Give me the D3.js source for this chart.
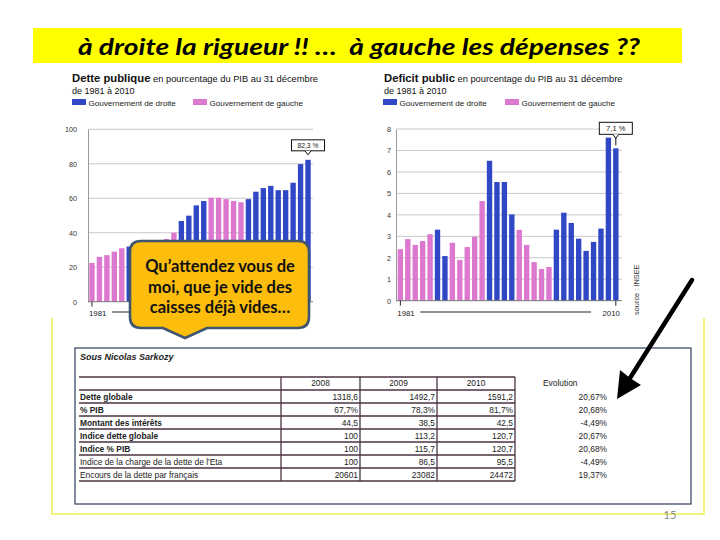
<!DOCTYPE html>
<html><head><meta charset="utf-8">
<script src="https://cdn.jsdelivr.net/npm/d3@7"></script>
<style>html,body{margin:0;padding:0;background:#fff;} svg{display:block}</style>
</head><body>
<svg id="c" width="720" height="540"></svg>
<script>
// ---------- DATA ----------
const years = ["1981","1982","1983","1984","1985","1986","1987","1988","1989","1990",
  "1991","1992","1993","1994","1995","1996","1997","1998","1999","2000",
  "2001","2002","2003","2004","2005","2006","2007","2008","2009","2010"];
// D = gouvernement de droite, G = gouvernement de gauche
const government = ["G","G","G","G","G","D","D","G","G","G",
  "G","G","D","D","D","D","G","G","G","G",
  "G","D","D","D","D","D","D","D","D","D"];
const debtValues = [22.5,26,27,29,31,32,33.5,34,34.5,35.5,
  36.4,40,46.8,49.9,55.9,58.4,60.3,60.3,59.5,58.4,
  57.7,59.5,63.8,65.9,67.2,64.7,64.7,69,79.8,82.3];
const deficitValues = [2.4,2.87,2.6,2.78,3.1,3.31,2.08,2.7,1.9,2.5,
  2.98,4.64,6.52,5.53,5.53,4.02,3.3,2.6,1.8,1.48,
  1.57,3.31,4.1,3.62,2.89,2.32,2.74,3.36,7.6,7.1];
const debtTicks = [0,20,40,60,80,100];
const deficitTicks = [0,1,2,3,4,5,6,7,8];
const legendLabels = ["Gouvernement de droite","Gouvernement de gauche"];

const tableYears = ["2008","2009","2010"];
const rowLabels = ["Dette globale","% PIB","Montant des intérêts","Indice dette globale",
  "Indice % PIB","Indice de la charge de la dette de l'Eta","Encours de la dette par français"];
const col2008 = ["1318,6","67,7%","44,5","100","100","100","20601"];
const col2009 = ["1492,7","78,3%","38,5","113,2","115,7","86,5","23082"];
const col2010 = ["1591,2","81,7%","42,5","120,7","120,7","95,5","24472"];
const evolution = ["20,67%","20,68%","-4,49%","20,67%","20,68%","-4,49%","19,37%"];

// ---------- DRAW ----------
const svg = d3.select("#c");
const BLUE = "#3047c6", PINK = "#dd78d0";
const color = d3.scaleOrdinal().domain(["D","G"]).range([BLUE, PINK]);
const SANS = "'Liberation Sans', Arial, sans-serif";

// title bar
svg.append("rect").attr("x",33).attr("y",28).attr("width",649).attr("height",35).attr("fill","#ffff00");
svg.append("text").attr("x",359).attr("y",55).attr("text-anchor","middle")
  .attr("font-family","Lato, 'Open Sans', sans-serif").attr("font-weight","bold").attr("font-style","italic")
  .attr("font-size",22.5).attr("fill","#000")
  .attr("textLength",562).attr("lengthAdjust","spacingAndGlyphs")
  .text("à droite la rigueur !! …\u00a0\u00a0à gauche les dépenses ??");

// yellow frame around scanned table
svg.append("path").attr("d","M52,318 V514 H704 V318").attr("fill","none")
  .attr("stroke","#f4f27a").attr("stroke-width",2);

function chart(o){
  const g = svg.append("g");
  // header
  const t = g.append("text").attr("x",o.tx).attr("y",82).attr("font-family",SANS).attr("fill","#111");
  t.append("tspan").attr("font-weight","bold").attr("font-size",11.3).text(o.title);
  t.append("tspan").attr("font-size",9.3).text(" en pourcentage du PIB"+o.sep+"au 31 décembre");
  g.append("text").attr("x",o.tx).attr("y",94).attr("font-family",SANS).attr("font-size",9)
    .attr("fill","#111").text("de 1981 à 2010");
  legendLabels.forEach((l,i)=>{
    g.append("rect").attr("x",o.lx[i]).attr("y",99).attr("width",14).attr("height",6)
      .attr("fill",i===0?BLUE:PINK);
    g.append("text").attr("x",o.lx[i]+16.5).attr("y",105.5).attr("font-family",SANS)
      .attr("font-size",8.1).attr("fill","#222").text(l);
  });
  const x = d3.scaleBand().domain(years).range(o.xr).paddingInner(0.28).paddingOuter(0);
  const y = d3.scaleLinear().domain([0,o.max]).range([o.y0,o.y1]);
  // grid
  g.selectAll(".gl").data(o.ticks.slice(1)).join("line")
    .attr("x1",o.gx0).attr("x2",o.gx1).attr("y1",d=>y(d)).attr("y2",d=>y(d))
    .attr("stroke","#c9c9c9").attr("stroke-width",1);
  const ax = d3.axisLeft(y).tickValues(o.ticks).tickSize(0).tickPadding(o.pad).tickFormat(d3.format("d"));
  const ag = g.append("g").attr("transform",`translate(${o.gx0},0)`).call(ax);
  ag.select(".domain").attr("stroke","#9a9a9a");
  ag.selectAll("text").attr("font-family",SANS).attr("font-size",7.2).attr("fill","#333");
  // bars
  g.selectAll(".bar").data(o.values).join("rect")
    .attr("x",(d,i)=>x(years[i])).attr("width",x.bandwidth())
    .attr("y",d=>y(d)).attr("height",d=>y(0)-y(d))
    .attr("fill",(d,i)=>color(government[i]));
  // baseline
  g.append("line").attr("x1",o.gx0).attr("x2",o.gx1).attr("y1",y(0)).attr("y2",y(0))
    .attr("stroke","#777").attr("stroke-width",1);
  // x axis annotation
  const cx0 = x(years[0])+x.bandwidth()/2;
  g.append("line").attr("x1",cx0).attr("x2",cx0).attr("y1",y(0)).attr("y2",y(0)+5).attr("stroke","#222");
  g.append("text").attr("x",cx0-3).attr("y",316).attr("font-family",SANS).attr("font-size",7.8)
    .attr("fill","#222").text(years[0]);
  g.append("line").attr("x1",cx0+20).attr("x2",o.lineEnd).attr("y1",312).attr("y2",312).attr("stroke","#222");
  if (o.showEnd){
    const cx1 = x(years[29])+x.bandwidth()/2;
    g.append("line").attr("x1",cx1).attr("x2",cx1).attr("y1",y(0)).attr("y2",y(0)+5).attr("stroke","#222");
    g.append("text").attr("x",cx1+4).attr("y",316).attr("text-anchor","end").attr("font-family",SANS)
      .attr("font-size",7.8).attr("fill","#222").text(years[29]);
  }
  // value callout on last bar
  const lv = o.values[29], lx = x(years[29])+x.bandwidth()/2, ly = y(lv);
  const bw = 33, bb = ly - o.gap;
  g.append("rect").attr("x",lx-bw/2).attr("y",bb-o.bh).attr("width",bw).attr("height",o.bh)
    .attr("fill","#fff").attr("stroke","#111").attr("stroke-width",1);
  g.append("path").attr("d",`M${lx-3},${bb} L${lx},${bb+4} L${lx+3},${bb}`+(o.stem?` M${lx},${bb+3} V${ly-3}`:""))
    .attr("fill","#fff").attr("stroke","#111").attr("stroke-width",1);
  g.append("text").attr("x",lx).attr("y",bb-o.bh/2+2.5).attr("text-anchor","middle")
    .attr("font-family",SANS).attr("font-size",o.lfs).attr("fill","#222").text(o.label);
  return g;
}

chart({title:"Dette publique", sep:" ", tx:72, lx:[72,193], xr:[89.3,310.7], gx0:88, gx1:313,
  y0:301.7, y1:129.3, max:100, ticks:debtTicks, pad:11, values:debtValues,
  lineEnd:292, showEnd:false, gap:9, bh:11, label:"82,3 %", lfs:6.8, stem:false});
chart({title:"Deficit public", sep:"\u00a0", tx:384, lx:[383,505], xr:[397.7,618.5], gx0:396, gx1:622,
  y0:300.7, y1:129, max:8, ticks:deficitTicks, pad:5, values:deficitValues,
  lineEnd:591, showEnd:true, gap:14, bh:12, label:"7,1 %", lfs:7.6, stem:true});

// source
svg.append("text").attr("transform","translate(639,315) rotate(-90)").attr("font-family",SANS)
  .attr("font-size",7.4).attr("fill","#333").text("source : INSEE");

// ---------- TABLE ----------
const T = svg.append("g");
T.append("rect").attr("x",75).attr("y",348).attr("width",616).attr("height",156)
  .attr("fill","none").attr("stroke","#2f3c5c").attr("stroke-width",1.2);
T.append("text").attr("x",80).attr("y",360).attr("font-family",SANS).attr("font-size",9)
  .attr("font-weight","bold").attr("font-style","italic").attr("fill","#222").text("Sous Nicolas Sarkozy");
const colEdges = [79,281,360,437,515];
const rowY = d3.scaleBand().domain(d3.range(rowLabels.length+1)).range([377,481]);
const LINE = "#4a3342";
rowY.domain().concat([rowLabels.length+1]).forEach((k,i)=>{
  const yy = 377 + i*rowY.step();
  T.append("line").attr("x1",79).attr("x2",515).attr("y1",yy).attr("y2",yy)
    .attr("stroke",LINE).attr("stroke-width",1.3);
});
colEdges.slice(1).forEach(cx=>{
  T.append("line").attr("x1",cx).attr("x2",cx).attr("y1",377).attr("y2",481)
    .attr("stroke",LINE).attr("stroke-width",1.3);
});
const tf = {"font-family":SANS,"font-size":8.4,"fill":"#222"};
function txt(x,y,s,anchor,bold){
  const e = T.append("text").attr("x",x).attr("y",y).attr("text-anchor",anchor||"start").text(s);
  Object.entries(tf).forEach(([k,v])=>e.attr(k,v));
  if(bold) e.attr("font-weight","bold");
  return e;
}
tableYears.forEach((yr,j)=>txt((colEdges[j+1]+colEdges[j+2])/2, 386, yr, "middle"));
txt(543,386,"Evolution");
const cols = [col2008,col2009,col2010];
rowLabels.forEach((l,i)=>{
  const yy = 377 + (i+1)*rowY.step() + rowY.step()/2 + 3;
  txt(80,yy,l,"start",i<5);
  cols.forEach((c,j)=>txt(colEdges[j+2]-2,yy,c[i],"end"));
  txt(607,yy,evolution[i],"end");
});

// ---------- SPEECH CALLOUT ----------
const cl=130, cr=309, ct=241, cb=328, r=11;
svg.append("path").attr("d",
  `M${cl+r},${ct} H${cr-r} Q${cr},${ct} ${cr},${ct+r} V${cb-r} Q${cr},${cb} ${cr-r},${cb} H207 L185,338 L163,${cb} H${cl+r} Q${cl},${cb} ${cl},${cb-r} V${ct+r} Q${cl},${ct} ${cl+r},${ct} Z`)
  .attr("fill","#fcbd0c").attr("stroke","#3f5470").attr("stroke-width",2.6);
["Qu’attendez vous de","moi, que je vide des","caisses déjà vides…"].forEach((s,i)=>{
  svg.append("text").attr("x",220).attr("y",272+i*20.5).attr("text-anchor","middle")
    .attr("font-family","Lato, 'Open Sans', sans-serif").attr("font-weight","bold").attr("font-size",16.5)
    .attr("fill","#111").text(s);
});

// ---------- ARROW ----------
svg.append("line").attr("x1",692).attr("y1",280).attr("x2",630).attr("y2",378)
  .attr("stroke","#000").attr("stroke-width",4.5).attr("stroke-linecap","round");
svg.append("path").attr("d","M617,399 L620,370 L630,378 L641,385 Z").attr("fill","#000");

// page number
svg.append("text").attr("x",670).attr("y",519).attr("text-anchor","middle").attr("font-family","Lato, sans-serif")
  .attr("font-size",11).attr("fill","#8a8a8a").text("15");
</script>
</body></html>
